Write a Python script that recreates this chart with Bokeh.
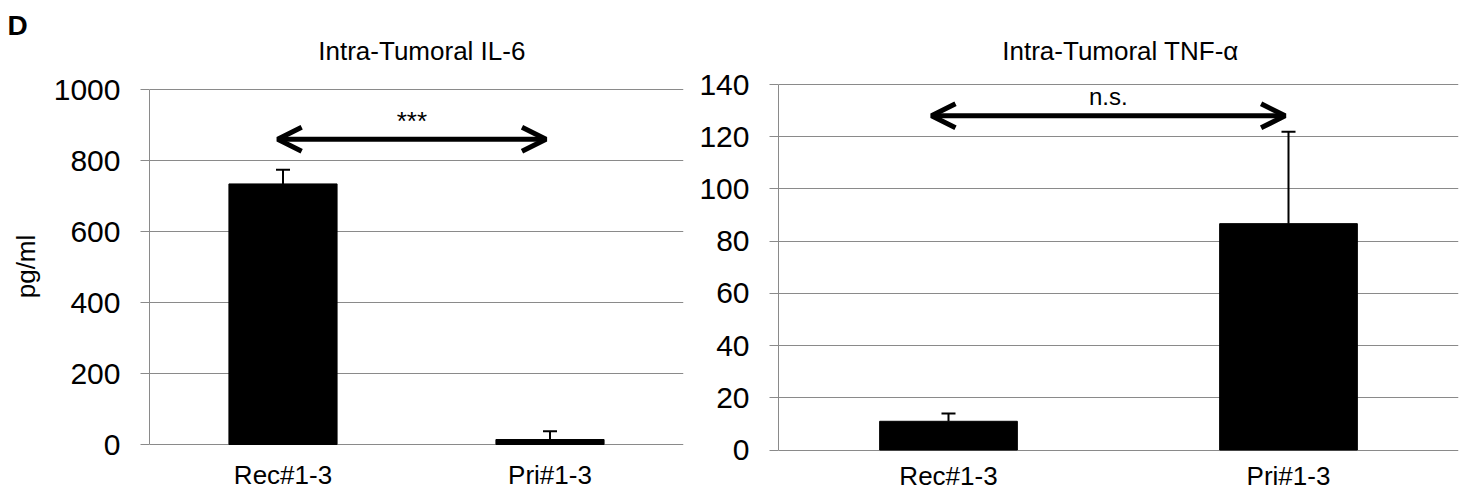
from bokeh.plotting import figure
from bokeh.models import (ColumnDataSource, Range1d, FactorRange, Whisker, TeeHead,
                          Arrow, OpenHead, Label, FixedTicker, Title)
from bokeh.core.properties import value
from bokeh.layouts import row
from bokeh.embed import file_html
from bokeh.resources import INLINE

# ---- data ----
categories = ["Rec#1-3", "Pri#1-3"]
il6_mean = [734, 14]
il6_err = [40, 23]
tnf_mean = [11, 86.7]
tnf_err = [3, 35.2]
il6_ticks = [0, 200, 400, 600, 800, 1000]
tnf_ticks = [0, 20, 40, 60, 80, 100, 120, 140]
il6_title = "Intra-Tumoral IL-6"
tnf_title = "Intra-Tumoral TNF-\u03b1"
il6_sig = "***"
tnf_sig = "n.s."
y_label = "pg/ml"
panel_letter = "D"

FONT = "Liberation Sans"
GRID = "#8a8a8a"
FIG_H = 492
FRAME_TOP = 40          # px from top of figure to top of plotting frame


def panel(title, means, errs, ticks, width, b_left, b_right, zero_px, top_px,
          ylabel, sig, arrow_x0, arrow_x1, arrow_y, sig_y, sig_size,
          label_px, title_px, title_x):
    ymax = ticks[-1]
    k = (zero_px - top_px) / ymax                 # px per data unit
    y_end = (zero_px - FRAME_TOP) / k
    y_start = -(FIG_H - zero_px) / k

    def y_of(px):
        return (zero_px - px) / k

    p = figure(x_range=FactorRange(*categories, range_padding=0),
               y_range=Range1d(y_start, y_end), width=width, height=FIG_H,
               output_backend="svg", toolbar_location=None, x_axis_location=None,
               min_border_left=b_left, min_border_right=b_right,
               min_border_top=FRAME_TOP, min_border_bottom=0)
    p.outline_line_color = None
    p.background_fill_color = "white"
    p.border_fill_color = "white"

    upper = [m + e for m, e in zip(means, errs)]
    lab_y = [y_of(label_px)] * len(categories)
    src = ColumnDataSource(dict(cat=categories, mean=means, upper=upper, laby=lab_y))
    p.vbar(x="cat", top="mean", bottom=0, width=0.405, source=src,
           fill_color="black", line_color="black")
    p.add_layout(Whisker(base="cat", upper="upper", lower="mean", source=src,
                         line_width=2, line_color="black",
                         upper_head=TeeHead(size=14, line_width=2, line_color="black"),
                         lower_head=None))
    # category labels under the zero line
    p.text(x="cat", y="laby", text="cat", source=src, text_align="center",
           text_baseline="middle", text_font=value(FONT), text_font_size="26px",
           text_color="black")

    # chart title
    p.add_layout(Label(x=title_x, y=y_of(title_px), text=title, text_font=FONT,
                       text_font_size="26px", text_align="center",
                       text_baseline="middle", text_color="black"))

    # y axis
    p.yaxis.ticker = FixedTicker(ticks=ticks)
    p.yaxis.bounds = (0, ymax)
    p.yaxis.major_label_text_font = FONT
    p.yaxis.major_label_text_font_size = "30px"
    p.yaxis.major_label_text_color = "black"
    p.yaxis.major_label_standoff = 20
    p.yaxis.major_tick_out = 9
    p.yaxis.major_tick_in = 0
    p.yaxis.minor_tick_line_color = None
    p.yaxis.axis_line_color = GRID
    p.yaxis.major_tick_line_color = GRID
    if ylabel:
        p.yaxis.axis_label = ylabel
        p.yaxis.axis_label_text_font = FONT
        p.yaxis.axis_label_text_font_size = "26px"
        p.yaxis.axis_label_text_font_style = "normal"
        p.yaxis.axis_label_text_color = "black"
        p.yaxis.axis_label_standoff = 10

    p.xgrid.grid_line_color = None
    p.ygrid.ticker = FixedTicker(ticks=ticks)
    p.ygrid.grid_line_color = GRID
    p.ygrid.grid_line_width = 1

    # significance arrow
    p.add_layout(Arrow(x_start=arrow_x0, x_end=arrow_x1, y_start=arrow_y, y_end=arrow_y,
                       line_width=5, line_color="black",
                       start=OpenHead(size=24, line_width=5, line_color="black"),
                       end=OpenHead(size=24, line_width=5, line_color="black")))
    p.add_layout(Label(x=(arrow_x0 + arrow_x1) / 2, y=sig_y, text=sig,
                       text_font=FONT, text_font_size=sig_size, text_align="center",
                       text_baseline="middle", text_color="black"))
    return p


p1 = panel(il6_title, il6_mean, il6_err, il6_ticks, 695, 149, 12, 444, 89,
           y_label, il6_sig, 0.48, 1.485, 860, 912, "26px", 474, 50, 1.02)
p1.title = Title(text=panel_letter, align="left", offset=-142, text_font=FONT,
                 text_font_size="28px", text_font_style="bold",
                 text_color="black", standoff=0)

p2 = panel(tnf_title, tnf_mean, tnf_err, tnf_ticks, 773, 83, 10, 449.5, 84,
           None, tnf_sig, 0.45, 1.49, 128, 135.5, "24px", 475, 50, 1.006)

layout = row(p1, p2)
open("out.html", "w").write(file_html(layout, INLINE))
